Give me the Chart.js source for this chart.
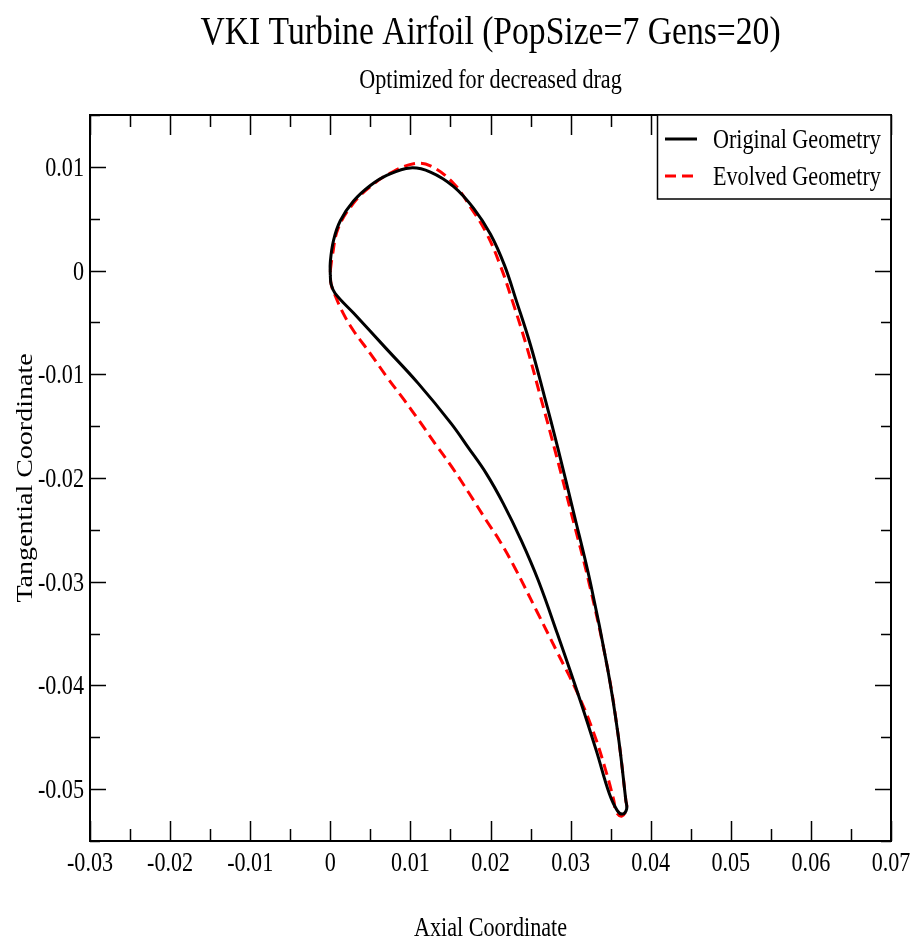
<!DOCTYPE html>
<html>
<head>
<meta charset="utf-8">
<title>VKI Turbine Airfoil</title>
<script src="https://cdn.jsdelivr.net/npm/chart.js@4.4.1/dist/chart.umd.min.js"></script>
<style>
  html, body { margin: 0; padding: 0; background: #fff; }
  canvas { display: block; }
</style>
</head>
<body>
<canvas id="airfoil" width="916" height="942"></canvas>
<script>
/* ═══════════════════════════════════════════════
   VKI turbine airfoil — original vs evolved
═══════════════════════════════════════════════ */

// ── Data (axial / tangential) ──
// loop: leading edge -> suction side -> trailing edge -> pressure side
const origX = [0, 0, 0.0004, 0.00125, 0.0029, 0.005, 0.0071, 0.01, 0.0125, 0.0154, 0.0179,
  0.02, 0.02175, 0.02322, 0.025, 0.02672, 0.0284, 0.0304, 0.0325, 0.0346, 0.0359, 0.0369, 0.037,
  0.0365, 0.03583, 0.03483, 0.03321, 0.03121, 0.02834, 0.02597, 0.02385, 0.0216, 0.01948, 0.01723,
  0.0151, 0.011, 0.00687, 0.0029, 0.0006, 0.0001, 0];
const origY = [-0.0005, 0.0008, 0.0029, 0.0048, 0.0067, 0.0082, 0.0092, 0.0099, 0.0095, 0.0081, 0.006,
  0.0035, 0.0005, -0.0029, -0.0072, -0.0121, -0.0171, -0.0234, -0.0302, -0.0383, -0.0446, -0.0511, -0.0519,
  -0.0524, -0.05207, -0.05043, -0.04629, -0.04147, -0.035, -0.02989, -0.02604, -0.02247, -0.01958, -0.01707,
  -0.01475, -0.0109, -0.00743, -0.0041, -0.0022, -0.0013, -0.0005];

const evolX = [0, 0.00025, 0.001, 0.0029, 0.005, 0.0075, 0.0104, 0.0125, 0.0154, 0.0176, 0.0195,
  0.02122, 0.02272, 0.02447, 0.02622, 0.02797, 0.03009, 0.03233, 0.0346, 0.0359, 0.0369, 0.037, 0.0364,
  0.0357, 0.0354, 0.0345, 0.0329, 0.0309, 0.0284, 0.02575, 0.023, 0.0211, 0.01948, 0.01735,
  0.01523, 0.0131, 0.01111, 0.00924, 0.0071, 0.005, 0.0029, 0.0016, 0.0006, 0.0001, 0];
const evolY = [0, 0.0014, 0.0041, 0.0065, 0.0081, 0.0094, 0.0103, 0.0101, 0.0084, 0.006, 0.0036,
  0.0005, -0.0029, -0.0072, -0.0121, -0.0171, -0.0234, -0.0302, -0.0383, -0.0446, -0.0511, -0.0519, -0.0526,
  -0.0522, -0.0511, -0.0485, -0.0446, -0.0408, -0.0369, -0.0328, -0.0286, -0.026, -0.0241, -0.0215,
  -0.019, -0.0167, -0.0145, -0.0125, -0.0103, -0.008, -0.0058, -0.0041, -0.0024, -0.0013, 0];

const seriesLabels = ['Original Geometry', 'Evolved Geometry'];
const xTicks = [-0.03, -0.02, -0.01, 0, 0.01, 0.02, 0.03, 0.04, 0.05, 0.06, 0.07];
const yTicks = [-0.05, -0.04, -0.03, -0.02, -0.01, 0, 0.01];
const xRange = [-0.03, 0.07];
const yRange = [-0.055, 0.015];

const TITLE    = 'VKI Turbine Airfoil (PopSize=7 Gens=20)';
const SUBTITLE = 'Optimized for decreased drag';
const X_TITLE  = 'Axial Coordinate';
const Y_TITLE  = 'Tangential Coordinate';

// ── Style ─────────────────────────────────────
const SERIF   = '"Liberation Serif", "Times New Roman", serif';
const SQUEEZE = 0.82;   // the source text is horizontally condensed
const DASH    = [11, 6];

function pts(xs, ys) { return xs.map((x, i) => ({ x, y: ys[i] })); }

function fmt(v) {
  if (Math.abs(v) < 1e-12) return '0';
  return String(+v.toFixed(3));
}

function squeezedText(ctx, text, x, y, size, align) {
  ctx.save();
  ctx.font = `${size}px ${SERIF}`;
  ctx.textAlign = align || 'center';
  ctx.textBaseline = 'alphabetic';
  ctx.translate(x, y);
  ctx.scale(SQUEEZE, 1);
  ctx.fillText(text, 0, 0);
  ctx.restore();
}

// ── Frame, inward ticks, labels, titles, legend ──
const gracePlot = {
  id: 'gracePlot',
  afterDraw(chart) {
    const { ctx, chartArea: a, scales } = chart;
    const xs = scales.x, ys = scales.y;
    ctx.save();
    ctx.fillStyle = '#000';
    ctx.strokeStyle = '#000';

    // minor ticks halfway between majors
    const mid = arr => arr.slice(1).map((v, i) => (v + arr[i]) / 2);
    const xMinor = mid(xTicks), yMinor = mid(yTicks).concat([yTicks[0] - 0.005, yTicks[yTicks.length - 1] + 0.005]);

    ctx.lineWidth = 1.5;
    ctx.beginPath();
    const vTick = (v, len) => {
      const px = Math.round(xs.getPixelForValue(v)) + 0.5;
      ctx.moveTo(px, a.bottom); ctx.lineTo(px, a.bottom - len);
      ctx.moveTo(px, a.top);    ctx.lineTo(px, a.top + len);
    };
    const hTick = (v, len) => {
      const py = Math.round(ys.getPixelForValue(v)) + 0.5;
      ctx.moveTo(a.left, py);  ctx.lineTo(a.left + len, py);
      ctx.moveTo(a.right, py); ctx.lineTo(a.right - len, py);
    };
    xTicks.forEach(v => vTick(v, 20));
    xMinor.forEach(v => vTick(v, 12));
    yTicks.forEach(v => hTick(v, 16));
    yMinor.forEach(v => hTick(v, 10));
    ctx.stroke();

    ctx.lineWidth = 2;
    ctx.strokeRect(a.left, a.top, a.right - a.left, a.bottom - a.top);

    // tick labels
    xTicks.forEach(v => squeezedText(ctx, fmt(v), xs.getPixelForValue(v), a.bottom + 30, 27, 'center'));
    yTicks.forEach(v => squeezedText(ctx, fmt(v), a.left - 6, ys.getPixelForValue(v) + 9, 27, 'right'));

    // titles
    const cx = (a.left + a.right) / 2;
    squeezedText(ctx, TITLE, cx, 44, 41, 'center');
    squeezedText(ctx, SUBTITLE, cx, 88, 27, 'center');
    squeezedText(ctx, X_TITLE, cx, 936, 27, 'center');

    ctx.save();
    ctx.translate(32, (a.top + a.bottom) / 2);
    ctx.rotate(-Math.PI / 2);
    ctx.scale(1, SQUEEZE);
    ctx.font = `28px ${SERIF}`;
    ctx.textAlign = 'center';
    ctx.textBaseline = 'alphabetic';
    ctx.fillText(Y_TITLE, 0, 0);
    ctx.restore();

    // legend box (upper right, sharing the frame)
    const lx = 657, lw = a.right - lx, lh = 84;
    ctx.fillStyle = '#fff';
    ctx.fillRect(lx, a.top, lw, lh);
    ctx.lineWidth = 1.5;
    ctx.strokeRect(lx + 0.5, a.top, lw - 0.5, lh);
    chart.data.datasets.forEach((ds, i) => {
      const y = a.top + 24 + i * 37;
      ctx.beginPath();
      ctx.strokeStyle = ds.borderColor;
      ctx.lineWidth = 3;
      ctx.setLineDash(ds.borderDash || []);
      ctx.moveTo(665, y); ctx.lineTo(697, y);
      ctx.stroke();
      ctx.setLineDash([]);
      ctx.fillStyle = '#000';
      squeezedText(ctx, ds.label, 713, y + 9, 27, 'left');
    });
    ctx.restore();
  },
};

// ── Chart ─────────────────────────────────────
new Chart(document.getElementById('airfoil').getContext('2d'), {
  type: 'scatter',
  data: {
    datasets: [
      {
        label: seriesLabels[0],
        data: pts(origX, origY),
        showLine: true,
        borderColor: '#000000',
        borderWidth: 3,
        pointRadius: 0,
        tension: 0.4,
        fill: false,
      },
      {
        label: seriesLabels[1],
        data: pts(evolX, evolY),
        showLine: true,
        borderColor: '#ff0000',
        borderWidth: 3,
        borderDash: DASH,
        pointRadius: 0,
        tension: 0.4,
        fill: false,
      },
    ],
  },
  options: {
    responsive: false,
    animation: false,
    layout: { padding: { left: 90, top: 115, right: 25, bottom: 101 } },
    scales: {
      x: { type: 'linear', min: xRange[0], max: xRange[1], display: false },
      y: { type: 'linear', min: yRange[0], max: yRange[1], display: false },
    },
    plugins: {
      legend:  { display: false },
      title:   { display: false },
      tooltip: { enabled: false },
    },
  },
  plugins: [gracePlot],
});
</script>
</body>
</html>
